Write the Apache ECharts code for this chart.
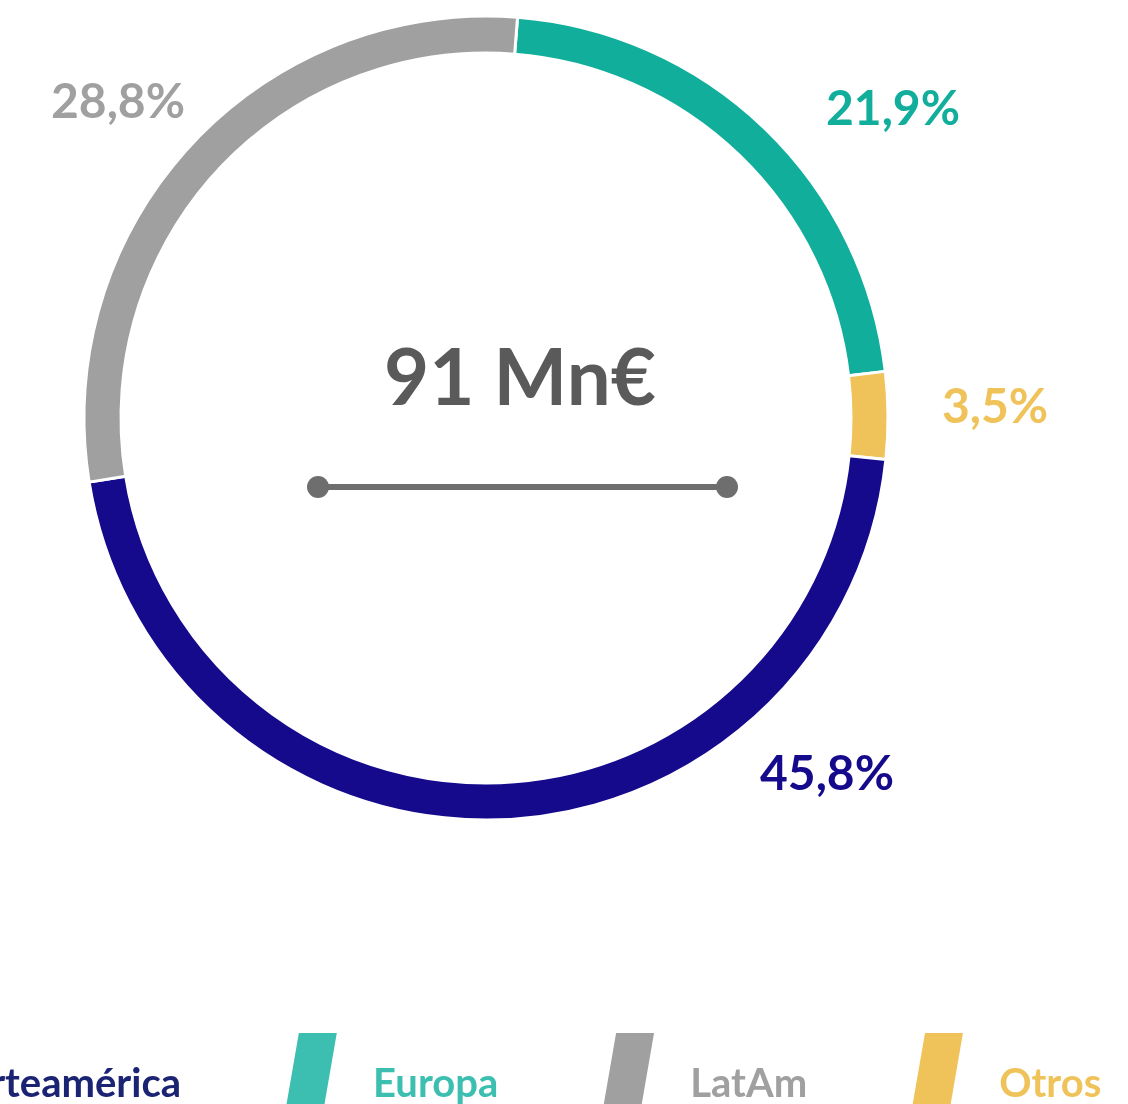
<!DOCTYPE html>
<html>
<head>
<meta charset="utf-8">
<script src="https://cdn.jsdelivr.net/npm/echarts@6/dist/echarts.min.js"></script>
<style>
  html, body { margin: 0; padding: 0; background: #fff; }
  #main { width: 1128px; height: 1104px; }
</style>
</head>
<body>
<div id="main"></div>
<script>
// order of the ring, clockwise from the top
var regions = ["Europa", "Otros", "Norteamérica", "LatAm"];
var shares = [21.9, 3.5, 45.8, 28.8];
var legendOrder = ["Norteamérica", "Europa", "LatAm", "Otros"];
var totalLabel = "91 Mn€";

var ringColors = {
  "Europa": "#12AE9C",
  "Otros": "#F0C35A",
  "Norteamérica": "#150A8C",
  "LatAm": "#A0A0A0"
};
var legendColors = {
  "Europa": "#3CBFB0",
  "Otros": "#F0C35A",
  "Norteamérica": "#150A8C",
  "LatAm": "#A0A0A0"
};
var legendTextColors = {
  "Europa": "#3CBFB0",
  "Otros": "#F0C35A",
  "Norteamérica": "#1B2473",
  "LatAm": "#A0A0A0"
};

var cx = 486, cy = 418;
// where each percentage sits, relative to the ring centre (hand placed in the original)
var labelOffsets = {
  "LatAm": [-368, -315],
  "Europa": [407, -308],
  "Otros": [509, -10],
  "Norteamérica": [341, 357]
};

var dom = document.getElementById("main");
var myChart = echarts.init(dom, null, { renderer: "canvas" });

var pieData = regions.map(function (name, i) {
  return {
    name: name,
    value: shares[i],
    itemStyle: { color: ringColors[name] },
    label: { color: ringColors[name] }
  };
});

var legendData = legendOrder.map(function (name) {
  return {
    name: name,
    itemStyle: { color: legendColors[name] },
    textStyle: { color: legendTextColors[name] }
  };
});

var option = {
  animation: false,
  textStyle: { fontFamily: "Lato" },
  legend: {
    data: legendData,
    left: -162,
    top: 1026,
    orient: "horizontal",
    itemWidth: 58,
    itemHeight: 104,
    itemGap: 98,
    icon: "path://M18,0 L58,0 L40,104 L0,104 Z",
    textStyle: {
      fontFamily: "Lato",
      fontWeight: "bold",
      fontSize: 40,
      padding: [0, 0, 0, 30]
    }
  },
  graphic: [
    {
      type: "text",
      x: 520,
      y: 380,
      style: {
        text: totalLabel,
        font: "bold 78px Lato",
        fill: "#5A5A5A",
        align: "center",
        verticalAlign: "middle"
      }
    },
    {
      type: "line",
      shape: { x1: 318, y1: 487, x2: 727, y2: 487 },
      style: { stroke: "#6E6E6E", lineWidth: 6 }
    },
    {
      type: "circle",
      shape: { cx: 318, cy: 487, r: 11 },
      style: { fill: "#6E6E6E" }
    },
    {
      type: "circle",
      shape: { cx: 727, cy: 487, r: 11 },
      style: { fill: "#6E6E6E" }
    }
  ],
  series: [
    {
      type: "pie",
      center: [cx, cy],
      radius: [365, 402],
      startAngle: 85.5,
      clockwise: true,
      avoidLabelOverlap: false,
      itemStyle: { borderColor: "#fff", borderWidth: 3 },
      emphasis: { disabled: true },
      label: {
        show: true,
        position: "outside",
        fontFamily: "Lato",
        fontWeight: "bold",
        fontSize: 48,
        formatter: function (p) {
          return p.value.toFixed(1).replace(".", ",") + "%";
        }
      },
      labelLine: { show: false },
      labelLayout: function (p) {
        var off = labelOffsets[regions[p.dataIndex]];
        return {
          x: cx + off[0],
          y: cy + off[1],
          align: "center",
          verticalAlign: "middle"
        };
      },
      data: pieData
    }
  ]
};

if (option && typeof option === "object") {
  myChart.setOption(option);
}

window.addEventListener("resize", myChart.resize);
</script>
</body>
</html>
